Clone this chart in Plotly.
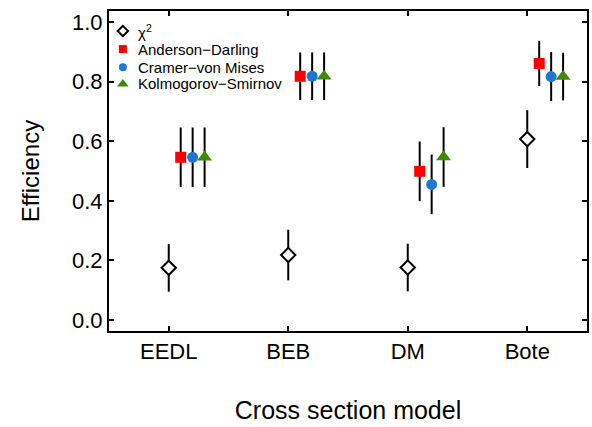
import plotly.graph_objects as go

models = ["EEDL", "BEB", "DM", "Bote"]
series_names = ["χ<sup>2</sup>", "Anderson−Darling", "Cramer−von Mises", "Kolmogorov−Smirnov"]

chi2_val = [0.175, 0.218, 0.176, 0.607]
chi2_err = [0.080, 0.085, 0.080, 0.097]

ad_val = [0.546, 0.818, 0.499, 0.861]
ad_err = [0.100, 0.080, 0.100, 0.076]

cvm_val = [0.546, 0.818, 0.455, 0.817]
cvm_err = [0.100, 0.080, 0.100, 0.082]

ks_val = [0.546, 0.818, 0.547, 0.817]
ks_err = [0.100, 0.080, 0.100, 0.080]

FONT = "Liberation Sans, Arial, sans-serif"

styles = [
    (0.0, dict(symbol="diamond", size=11, color="white", line=dict(color="black", width=2)),
     dict(symbol="diamond", size=8, color="white", line=dict(color="black", width=2))),
    (0.1, dict(symbol="square", size=11, color="#ff0000", line=dict(width=0)),
     dict(symbol="square", size=8, color="#ff0000", line=dict(width=0))),
    (0.2, dict(symbol="circle", size=11, color="#1f77d4", line=dict(width=0)),
     dict(symbol="circle", size=8, color="#1f77d4", line=dict(width=0))),
    (0.3, dict(symbol="triangle-up", size=13, color="#3f8a00", line=dict(width=0)),
     dict(symbol="triangle-up", size=10, color="#3f8a00", line=dict(width=0))),
]
data = [(chi2_val, chi2_err), (ad_val, ad_err), (cvm_val, cvm_err), (ks_val, ks_err)]

# legend layout (paper fractions of the plot area)
leg_x_marker = 0.029
leg_x_text = 0.057
leg_y = [0.9375, 0.881, 0.824, 0.772]

fig = go.Figure()
annotations = []
for k, (name, (vals, errs), (off, mk, lmk)) in enumerate(zip(series_names, data, styles)):
    fig.add_trace(go.Scatter(
        x=[i + off for i in range(len(models))],
        y=vals,
        mode="markers",
        name=name,
        marker=mk,
        error_y=dict(type="data", array=errs, visible=True, color="black",
                     thickness=2, width=0),
        showlegend=False,
    ))
    fig.add_trace(go.Scatter(
        x=[leg_x_marker], y=[leg_y[k]], xaxis="x2", yaxis="y2",
        mode="markers", marker=lmk, showlegend=False, hoverinfo="skip",
    ))
    annotations.append(dict(
        x=leg_x_text, y=leg_y[k], xref="paper", yref="paper",
        xanchor="left", yanchor="middle", showarrow=False,
        text=name, font=dict(size=15, family=FONT, color="black"),
    ))

fig.update_layout(
    width=592, height=427,
    margin=dict(l=109, r=3, t=11, b=96),
    paper_bgcolor="white", plot_bgcolor="white",
    font=dict(family=FONT, color="black"),
    showlegend=False,
    annotations=annotations,
    xaxis=dict(
        range=[-0.5, 3.5],
        tickvals=list(range(len(models))), ticktext=models,
        ticks="inside", ticklen=5, tickwidth=1.5, tickcolor="black",
        showline=True, linecolor="black", linewidth=2, mirror="allticks",
        showgrid=False, zeroline=False,
        tickfont=dict(size=22, family=FONT),
        title=dict(text="Cross section model", font=dict(size=25, family=FONT), standoff=38),
    ),
    yaxis=dict(
        range=[-0.037, 1.037],
        tickvals=[0, 0.2, 0.4, 0.6, 0.8, 1.0],
        ticktext=["0.0", "0.2", "0.4", "0.6", "0.8", "1.0"],
        ticks="inside", ticklen=5, tickwidth=1.5, tickcolor="black",
        showline=True, linecolor="black", linewidth=2, mirror="allticks",
        showgrid=False, zeroline=False,
        tickfont=dict(size=22, family=FONT),
        title=dict(text="Efficiency", font=dict(size=24, family=FONT), standoff=26),
    ),
    xaxis2=dict(overlaying="x", range=[0, 1], visible=False, fixedrange=True),
    yaxis2=dict(overlaying="y", range=[0, 1], visible=False, fixedrange=True),
)

fig.write_html("out.html")
